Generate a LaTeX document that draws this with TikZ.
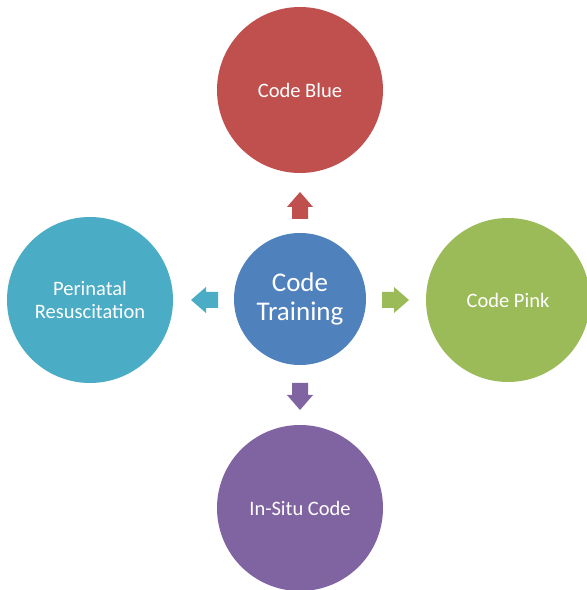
\documentclass[tikz,border=0pt]{standalone}
\usepackage{fontspec}
\setmainfont{Carlito}

\definecolor{hubblue}{HTML}{4F81BD}
\definecolor{bluered}{HTML}{C0504D}
\definecolor{pinkgreen}{HTML}{9BBB59}
\definecolor{situpurple}{HTML}{8064A2}
\definecolor{periteal}{HTML}{4BACC6}

\tikzset{
  topic/.style={circle, inner sep=0pt, text=white, align=center, font=\fontsize{20.5}{23.5}\selectfont}
}

\begin{document}
\begin{tikzpicture}[x=1pt, y=1pt]
\useasboundingbox (0,0) rectangle (587,590);

% centre and the four codes
\node[topic, fill=hubblue, minimum size=132pt, font=\fontsize{27}{29}\selectfont] (hub) at (300,291) {Code\\Training};
\node[topic, fill=bluered, minimum size=166pt] (blue) at (300,500) {Code Blue};
\node[topic, fill=pinkgreen, minimum size=164pt] (pink) at (508,290) {Code Pink};
\node[topic, fill=situpurple, minimum size=166pt] (situ) at (300,82) {In-Situ Code};
\node[topic, fill=periteal, minimum size=166pt] (peri) at (90,290) {Perinatal\\Resuscitation};

% block arrows, drawn pointing up and then turned
\fill[bluered, shift={(300,384.5)}, rotate=0]
  (-8,-13.5) -- (8,-13.5) -- (8,-1.5) -- (13,-1.5) -- (0,13.5) -- (-13,-1.5) -- (-8,-1.5) -- cycle;
\fill[pinkgreen, shift={(395.5,290)}, rotate=-90]
  (-8,-13.5) -- (8,-13.5) -- (8,-1.5) -- (13,-1.5) -- (0,13.5) -- (-13,-1.5) -- (-8,-1.5) -- cycle;
\fill[situpurple, shift={(300,193.5)}, rotate=180]
  (-8,-13.5) -- (8,-13.5) -- (8,-1.5) -- (13,-1.5) -- (0,13.5) -- (-13,-1.5) -- (-8,-1.5) -- cycle;
\fill[periteal, shift={(204.5,290)}, rotate=90]
  (-8,-13.5) -- (8,-13.5) -- (8,-1.5) -- (13,-1.5) -- (0,13.5) -- (-13,-1.5) -- (-8,-1.5) -- cycle;
\end{tikzpicture}
\end{document}
